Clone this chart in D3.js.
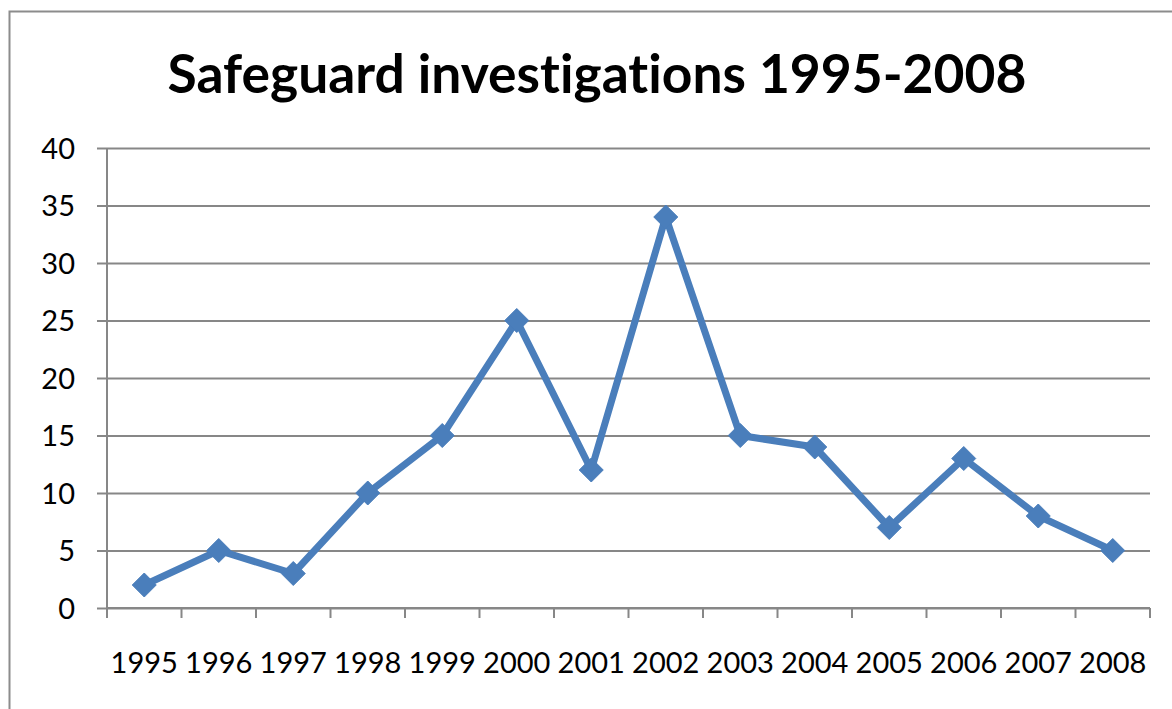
<!DOCTYPE html>
<html>
<head>
<meta charset="utf-8">
<script src="https://cdn.jsdelivr.net/npm/d3@7"></script>
<style>
  body { margin: 0; background: #fff; }
  svg { display: block; font-family: Lato, "Open Sans", sans-serif; font-variant-ligatures: none; }
</style>
</head>
<body>
<div id="chart"></div>
<script>
// Chart data
const years = ["1995", "1996", "1997", "1998", "1999", "2000", "2001",
               "2002", "2003", "2004", "2005", "2006", "2007", "2008"];
const investigations = [2, 5, 3, 10, 15, 25, 12, 34, 15, 14, 7, 13, 8, 5];
const yTicks = [0, 5, 10, 15, 20, 25, 30, 35, 40];
const titleText = "Safeguard investigations 1995-2008";

const W = 1172, H = 709;
const margin = {top: 148, right: 22, bottom: 101, left: 107};
const width = W - margin.left - margin.right;
const height = H - margin.top - margin.bottom;

const svg = d3.select("#chart").append("svg")
    .attr("width", W)
    .attr("height", H);

// Outer chart border (runs off the right and bottom edge)
svg.append("rect")
    .attr("x", 9.5).attr("y", 11.5)
    .attr("width", W + 20).attr("height", H + 20)
    .attr("fill", "none")
    .attr("stroke", "#8c8c8c")
    .attr("stroke-width", 2);

// Title, sized to the reference width
const title = svg.append("text")
    .attr("x", 597)
    .attr("y", 93)
    .attr("text-anchor", "middle")
    .attr("font-weight", "bold")
    .attr("font-size", 48)
    .attr("fill", "#000")
    .text(titleText);
const tw = title.node().getComputedTextLength();
title.attr("font-size", 48 * 859 / tw);

const g = svg.append("g")
    .attr("transform", `translate(${margin.left},${margin.top})`);

const x = d3.scaleBand()
    .domain(years)
    .range([0, width]);

const y = d3.scaleLinear()
    .domain([0, 40])
    .range([height, 0]);

// Horizontal gridlines with outward ticks
const yAxis = g.append("g")
    .call(d3.axisLeft(y).tickValues(yTicks).tickSize(-width).tickPadding(32).tickSizeOuter(0));
yAxis.select(".domain").remove();
yAxis.selectAll(".tick line")
    .attr("x1", -10)
    .attr("x2", width)
    .attr("stroke", "#878787")
    .attr("stroke-width", 2);
yAxis.selectAll(".tick text")
    .attr("font-size", 29)
    .attr("font-family", "Lato, sans-serif")
    .attr("fill", "#000")
    .attr("dy", "0.36em");

// Left axis line
g.append("line")
    .attr("x1", 0).attr("x2", 0)
    .attr("y1", 0).attr("y2", height)
    .attr("stroke", "#878787")
    .attr("stroke-width", 2);

// Bottom axis: ticks between categories
const xAxis = g.append("g")
    .attr("transform", `translate(0,${height})`);
xAxis.append("line")
    .attr("x1", 0).attr("x2", width)
    .attr("stroke", "#878787")
    .attr("stroke-width", 2);
xAxis.selectAll(".cat-tick")
    .data(years.concat(["end"]))
    .enter().append("line")
    .attr("x1", (d, i) => i < years.length ? x(d) : width)
    .attr("x2", (d, i) => i < years.length ? x(d) : width)
    .attr("y1", 0).attr("y2", 10)
    .attr("stroke", "#878787")
    .attr("stroke-width", 2);
xAxis.selectAll(".cat-label")
    .data(years)
    .enter().append("text")
    .attr("x", d => x(d) + x.bandwidth() / 2)
    .attr("y", 65)
    .attr("text-anchor", "middle")
    .attr("font-size", 29)
    .attr("fill", "#000")
    .text(d => d);

// Series line
const line = d3.line()
    .x((d, i) => x(years[i]) + x.bandwidth() / 2)
    .y(d => y(d));

g.append("path")
    .datum(investigations)
    .attr("fill", "none")
    .attr("stroke", "#4a7ebb")
    .attr("stroke-width", 7)
    .attr("stroke-linejoin", "round")
    .attr("d", line);

// Diamond markers
g.selectAll(".marker")
    .data(investigations)
    .enter().append("path")
    .attr("transform", (d, i) => `translate(${x(years[i]) + x.bandwidth() / 2},${y(d)})`)
    .attr("d", "M0,-12L12,0L0,12L-12,0Z")
    .attr("fill", "#4a7ebb")
    .attr("stroke", "#4a7ebb")
    .attr("stroke-width", 1);
</script>
</body>
</html>
